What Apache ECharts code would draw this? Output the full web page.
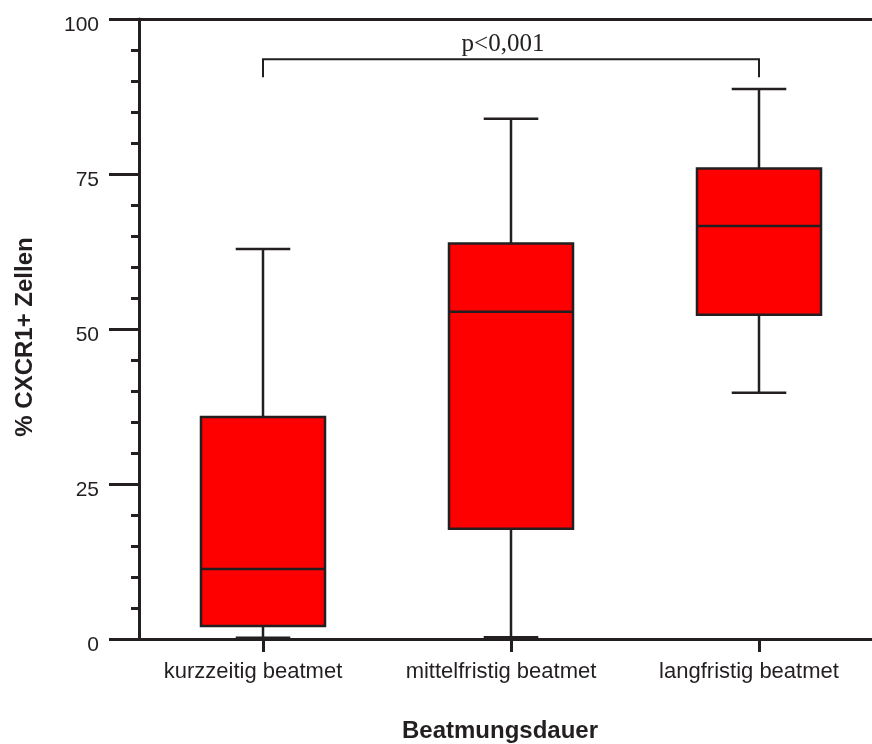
<!DOCTYPE html>
<html>
<head>
<meta charset="utf-8">
<script src="https://cdn.jsdelivr.net/npm/echarts@6/dist/echarts.min.js"></script>
<style>
  html, body { margin: 0; padding: 0; background: #fff; overflow: hidden; }
  #chart { width: 872px; height: 744px; }
</style>
</head>
<body>
<div id="chart"></div>
<script>
// Ventilation-duration groups and CXCR1+ cell percentages (box-plot summary)
const categories = ['kurzzeitig beatmet', 'mittelfristig beatmet', 'langfristig beatmet'];
const minVals    = [0.2, 0.3, 39.7];
const q1Vals     = [2.1, 17.8, 52.3];
const medianVals = [11.3, 52.8, 66.6];
const q3Vals     = [35.8, 63.8, 75.9];
const maxVals    = [62.9, 83.9, 88.7];
const yTicks     = [0, 25, 50, 75, 100];

// significance bracket between first and last group
const bracketFrom = 0, bracketTo = 2;
const bracketTop = 93.5, bracketFoot = 90.6;
const bracketLabel = 'p<0,001';

const ink = '#231f20';
const sans = '"Liberation Sans", Arial, sans-serif';
const boxData = categories.map((c, i) => [i, minVals[i], q1Vals[i], medianVals[i], q3Vals[i], maxVals[i]]);

const chart = echarts.init(document.getElementById('chart'));

function renderBox(params, api) {
  const i = api.value(0);
  const band = api.size([1, 0])[0];
  const boxW = band * 0.5;
  const capW = band * 0.22;
  const pMin = api.coord([i, api.value(1)]);
  const pQ1 = api.coord([i, api.value(2)]);
  const pMed = api.coord([i, api.value(3)]);
  const pQ3 = api.coord([i, api.value(4)]);
  const pMax = api.coord([i, api.value(5)]);
  const cx = pQ1[0];
  const lineStyle = { stroke: ink, lineWidth: 2.5, fill: null };
  return {
    type: 'group',
    children: [
      { type: 'line', shape: { x1: cx, y1: pQ3[1], x2: cx, y2: pMax[1] }, style: lineStyle },
      { type: 'line', shape: { x1: cx, y1: pQ1[1], x2: cx, y2: pMin[1] }, style: lineStyle },
      { type: 'line', shape: { x1: cx - capW / 2, y1: pMax[1], x2: cx + capW / 2, y2: pMax[1] }, style: lineStyle },
      { type: 'line', shape: { x1: cx - capW / 2, y1: pMin[1], x2: cx + capW / 2, y2: pMin[1] }, style: lineStyle },
      { type: 'rect', shape: { x: cx - boxW / 2, y: pQ3[1], width: boxW, height: pQ1[1] - pQ3[1] },
        style: { fill: '#ff0000', stroke: ink, lineWidth: 2.5 } },
      { type: 'line', shape: { x1: cx - boxW / 2, y1: pMed[1], x2: cx + boxW / 2, y2: pMed[1] }, style: lineStyle }
    ]
  };
}

function renderBracket(params, api) {
  const a = api.coord([bracketFrom, bracketTop]);
  const b = api.coord([bracketTo, bracketTop]);
  const footY = api.coord([bracketFrom, bracketFoot])[1];
  return {
    type: 'group',
    children: [
      { type: 'polyline', shape: { points: [[a[0], footY], [a[0], a[1]], [b[0], b[1]], [b[0], footY]] },
        style: { stroke: ink, lineWidth: 2, fill: null } },
      { type: 'text', style: { text: bracketLabel, x: (a[0] + b[0]) / 2 - 8, y: a[1] - 2,
        textAlign: 'center', textVerticalAlign: 'bottom',
        font: '25px "Liberation Serif", "Times New Roman", serif', fill: ink } }
    ]
  };
}

chart.setOption({
  animation: false,
  backgroundColor: '#fff',
  grid: { left: 139, top: 19, width: 744, height: 620, containLabel: false, outerBoundsMode: 'none' },
  xAxis: [{
    type: 'category',
    data: categories,
    boundaryGap: true,
    name: 'Beatmungsdauer',
    nameLocation: 'middle',
    nameGap: 80,
    nameTextStyle: { fontFamily: sans, fontSize: 24, fontWeight: 'bold', color: ink, padding: [0, 22, 0, 0] },
    axisLine: { show: true, lineStyle: { color: ink, width: 3 } },
    axisTick: { show: true, alignWithLabel: true, length: 13, lineStyle: { color: ink, width: 3 } },
    axisLabel: { margin: 22, fontFamily: sans, fontSize: 22, color: ink, padding: [0, 20, 0, 0] },
    splitLine: { show: false }
  }, {
    type: 'category',
    data: categories,
    position: 'top',
    axisLine: { show: true, lineStyle: { color: ink, width: 3 } },
    axisTick: { show: false },
    axisLabel: { show: false }
  }],
  yAxis: {
    type: 'value',
    min: yTicks[0],
    max: yTicks[yTicks.length - 1],
    interval: 25,
    name: '% CXCR1+ Zellen',
    nameLocation: 'middle',
    nameGap: 102,
    nameRotate: 90,
    nameTextStyle: { fontFamily: sans, fontSize: 24, fontWeight: 'bold', color: ink, padding: [0, 16, 0, 0] },
    axisLine: { show: true, lineStyle: { color: ink, width: 3 } },
    axisTick: { show: true, length: 30, lineStyle: { color: ink, width: 3 } },
    minorTick: { show: true, splitNumber: 5, length: 8, lineStyle: { color: ink, width: 3 } },
    axisLabel: {
      margin: 40,
      formatter: '{t|{value}}',
      rich: { t: { fontFamily: sans, fontSize: 21, color: ink, padding: [12, 0, 0, 0] } }
    },
    splitLine: { show: false }
  },
  series: [{
    type: 'custom',
    renderItem: renderBox,
    encode: { x: 0, y: [1, 2, 3, 4, 5] },
    data: boxData,
    z: 3
  }, {
    type: 'custom',
    renderItem: renderBracket,
    data: [[bracketFrom, bracketTop]],
    z: 4
  }]
});
</script>
</body>
</html>
